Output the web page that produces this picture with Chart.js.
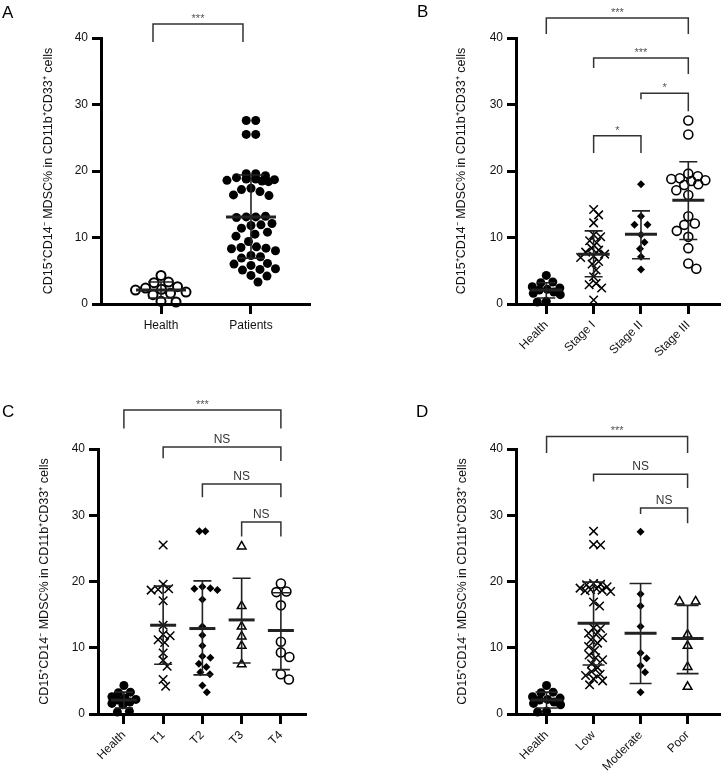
<!DOCTYPE html>
<html><head><meta charset="utf-8">
<script src="https://cdn.jsdelivr.net/npm/chart.js@4.4.1/dist/chart.umd.min.js"></script>
<style>
html,body{margin:0;padding:0;background:#fff}
body{width:728px;height:780px;position:relative;overflow:hidden;font-family:"Liberation Sans",Arial,sans-serif}
canvas{position:absolute}
.letter{position:absolute;font-size:17px;line-height:17px;color:#000}
</style></head><body>
<canvas id="cA" width="364" height="390" style="left:0;top:0"></canvas>
<canvas id="cB" width="364" height="390" style="left:364px;top:0"></canvas>
<canvas id="cC" width="364" height="390" style="left:0;top:390px"></canvas>
<canvas id="cD" width="364" height="390" style="left:364px;top:390px"></canvas>
<div class="letter" style="left:2px;top:4px">A</div>
<div class="letter" style="left:417px;top:3px">B</div>
<div class="letter" style="left:2px;top:403px">C</div>
<div class="letter" style="left:416px;top:403px">D</div>
<script>
// ---------------- DATA ----------------
const yTicks = [0, 10, 20, 30, 40];
const yTitle = 'CD15\u207ACD14\u207B MDSC% in CD11b\u207ACD33\u207A cells';

const healthValues = [4.3, 3.3, 3.2, 2.6, 2.4, 2.2, 2.1, 1.8, 1.6, 1.4, 0.4, 0.3];

// Panel A
const catsA = ['Health', 'Patients'];
const patientsValues = [27.6, 27.6, 25.5, 25.5, 19.6, 19.6, 19.3, 19.0, 18.9, 18.9, 18.8, 18.8, 18.7, 18.6, 18.5, 18.4,
  17.4, 17.2, 16.9, 16.4, 16.3, 13.2, 13.1, 13.1, 13.0, 12.1, 11.9, 11.8, 11.4, 10.8, 10.5, 10.2, 9.4,
  8.6, 8.5, 8.4, 8.3, 8.0, 7.3, 7.1, 6.9, 6.1, 6.0, 5.8, 5.3, 5.2, 5.1, 4.3, 4.2, 3.3];
const meansA = [2.1, 13.1];
const sdHighA = [3.3, 19.4];
const sdLowA = [0.9, 6.9];

// Panel B
const catsB = ['Health', 'Stage I', 'Stage II', 'Stage III'];
const stage1Values = [14.2, 13.4, 12.2, 10.4, 10.1, 9.5, 9.2, 8.4, 8.1, 7.8, 7.5, 7.2, 7.0, 6.4, 6.0, 5.1, 4.1, 3.1, 2.9, 2.4, 0.6];
const stage2Values = [18.0, 13.2, 11.9, 11.9, 10.4, 9.3, 8.3, 7.1, 5.2];
const stage3Values = [27.6, 25.5, 19.6, 19.2, 18.9, 18.8, 18.6, 18.5, 18.0, 17.9, 17.1, 16.4, 13.2, 12.1, 11.9, 11.0, 10.1, 8.4, 6.1, 5.3];
const meansB = [2.1, 7.5, 10.5, 15.6];
const sdHighB = [3.2, 11.0, 14.0, 21.4];
const sdLowB = [0.9, 4.1, 6.8, 9.7];

// Panel C
const catsC = ['Health', 'T1', 'T2', 'T3', 'T4'];
const t1Values = [25.5, 19.6, 18.9, 18.8, 18.7, 17.1, 13.4, 12.0, 11.8, 11.2, 10.8, 9.2, 8.1, 7.2, 5.2, 4.2];
const t2Values = [27.6, 27.6, 19.2, 19.0, 18.9, 18.7, 17.3, 13.2, 11.9, 10.3, 8.7, 8.5, 7.6, 7.1, 6.3, 6.0, 4.3, 3.3];
const t3Values = [25.3, 16.3, 13.2, 11.7, 10.3, 7.5];
const t4Values = [19.7, 18.5, 18.4, 16.4, 10.9, 9.3, 8.6, 6.0, 5.2];
const meansC = [2.1, 13.4, 12.9, 14.2, 12.6];
const sdHighC = [3.3, 19.3, 20.1, 20.5, 18.3];
const sdLowC = [0.9, 7.5, 5.9, 7.7, 6.7];

// Panel D
const catsD = ['Health', 'Low', 'Moderate', 'Poor'];
const lowValues = [27.6, 25.6, 25.5, 19.7, 19.6, 19.5, 19.2, 19.0, 18.9, 18.8, 18.7, 18.6, 18.5, 16.9, 16.3,
  13.0, 12.9, 12.2, 12.0, 11.5, 11.2, 10.7, 10.2, 9.6, 8.9, 8.5, 8.2, 7.6, 7.0, 6.4, 6.0, 5.8, 5.3, 5.0, 4.4];
const moderateValues = [27.5, 18.1, 16.3, 13.2, 9.2, 8.4, 7.3, 6.3, 3.3];
const poorValues = [17.0, 17.0, 12.0, 10.3, 7.1, 4.1];
const meansD = [2.1, 13.7, 12.2, 11.4];
const sdHighD = [3.3, 19.9, 19.7, 16.4];
const sdLowD = [0.9, 7.4, 4.6, 6.1];

// Significance brackets: groups compared, label, heights (in axis units)
const bracketsA = [{from: 0, to: 1, label: '***', top: 42.1, left: 39.4, right: 39.4}];
const bracketsB = [
  {from: 0, to: 3, label: '***', top: 43.0, left: 40.6, right: 40.6},
  {from: 1, to: 3, label: '***', top: 37.0, left: 35.5, right: 34.6},
  {from: 2, to: 3, label: '*', top: 31.7, left: 30.8, right: 29.0},
  {from: 1, to: 2, label: '*', top: 25.3, left: 22.7, right: 22.7}];
const bracketsC = [
  {from: 0, to: 4, label: '***', top: 45.9, left: 43.1, right: 43.1},
  {from: 1, to: 4, label: 'NS', top: 40.3, left: 38.6, right: 38.2},
  {from: 2, to: 4, label: 'NS', top: 34.7, left: 32.7, right: 32.7},
  {from: 3, to: 4, label: 'NS', top: 29.0, left: 26.8, right: 26.8}];
const bracketsD = [
  {from: 0, to: 3, label: '***', top: 41.9, left: 39.4, right: 39.4},
  {from: 1, to: 3, label: 'NS', top: 36.2, left: 35.1, right: 34.1},
  {from: 2, to: 3, label: 'NS', top: 31.1, left: 30.2, right: 28.8}];

// ---------------- STYLES ----------------
const FONT = '"Liberation Sans", Arial, sans-serif';
Chart.defaults.font.family = FONT;
Chart.defaults.color = '#111';

const filledCircle = {pointStyle: 'circle', pointRadius: 4.5, pointBackgroundColor: '#000', pointBorderColor: '#000', pointBorderWidth: 0, swarm: 9};
const hollowCircle = {pointStyle: 'circle', pointRadius: 4.5, pointBackgroundColor: 'rgba(0,0,0,0)', pointBorderColor: '#000', pointBorderWidth: 1.6, swarm: 9.5};
const crossMark = {pointStyle: 'crossRot', pointRadius: 6, pointBackgroundColor: 'rgba(0,0,0,0)', pointBorderColor: '#000', pointBorderWidth: 1.5, swarm: 7};
const diamondMark = {pointStyle: 'rectRot', pointRadius: 4, pointBackgroundColor: '#000', pointBorderColor: '#000', pointBorderWidth: 0, swarm: 8};
const triangleMark = {pointStyle: 'triangle', pointRadius: 5, pointBackgroundColor: 'rgba(0,0,0,0)', pointBorderColor: '#000', pointBorderWidth: 1.5, swarm: 9};

function makeChart(id, cfg) {
  const W = 364, H = 390, a = cfg.area;
  const datasets = cfg.groups.map((vals, i) => Object.assign({
    data: vals.map(v => ({x: i, y: v})),
    clip: false, showLine: false,
    pointHoverRadius: cfg.styles[i].pointRadius
  }, cfg.styles[i]));

  const overlay = {
    id: 'overlay' + id,
    afterDatasetsDraw(chart) {
      const ctx = chart.ctx, xs = chart.scales.x, ys = chart.scales.y;
      ctx.save();
      ctx.strokeStyle = '#222';
      cfg.means.forEach((m, i) => {
        const x = xs.getPixelForValue(i);
        const yh = ys.getPixelForValue(cfg.sdHigh[i]), yl = ys.getPixelForValue(cfg.sdLow[i]);
        const ym = ys.getPixelForValue(m);
        ctx.lineWidth = 1.6;
        ctx.beginPath();
        ctx.moveTo(x, yh); ctx.lineTo(x, yl);
        ctx.moveTo(x - cfg.capHalf, yh); ctx.lineTo(x + cfg.capHalf, yh);
        ctx.moveTo(x - cfg.capHalf, yl); ctx.lineTo(x + cfg.capHalf, yl);
        ctx.stroke();
        ctx.lineWidth = 3;
        ctx.beginPath();
        ctx.moveTo(x - cfg.meanHalf, ym); ctx.lineTo(x + cfg.meanHalf, ym);
        ctx.stroke();
      });
      ctx.restore();
    },
    afterDraw(chart) {
      const ctx = chart.ctx, xs = chart.scales.x, ys = chart.scales.y;
      ctx.save();
      ctx.strokeStyle = '#333';
      ctx.lineWidth = 1.5;
      cfg.brackets.forEach(b => {
        const x1 = xs.getPixelForValue(b.from) + (cfg.bracketShift || 0);
        const x2 = xs.getPixelForValue(b.to) + (cfg.bracketShift || 0);
        const yt = ys.getPixelForValue(b.top);
        ctx.beginPath();
        ctx.moveTo(x1, ys.getPixelForValue(b.left));
        ctx.lineTo(x1, yt); ctx.lineTo(x2, yt);
        ctx.lineTo(x2, ys.getPixelForValue(b.right));
        ctx.stroke();
        ctx.textAlign = 'center';
        ctx.textBaseline = 'alphabetic';
        if (b.label === 'NS') { ctx.font = '12px ' + FONT; ctx.fillStyle = '#333'; ctx.fillText(b.label, (x1 + x2) / 2, yt - 4); }
        else { ctx.font = '11px ' + FONT; ctx.fillStyle = '#555'; ctx.fillText(b.label, (x1 + x2) / 2, yt - 2); }
      });
      ctx.restore();
    }
  };

  const chart = new Chart(document.getElementById(id), {
    type: 'scatter',
    data: {datasets},
    options: {
      responsive: false, animation: false, devicePixelRatio: 1, events: [],
      layout: {padding: {left: 0, top: a.top, right: W - a.right, bottom: 0}},
      plugins: {legend: {display: false}, tooltip: {enabled: false}},
      scales: {
        x: {
          type: 'linear', min: cfg.xmin, max: cfg.xmax,
          afterBuildTicks: s => { s.ticks = cfg.cats.map((c, i) => ({value: i})); },
          afterFit: s => { s.height = H - a.bottom; },
          ticks: {
            callback: v => cfg.cats[Math.round(v)], font: {size: 12}, color: '#111',
            minRotation: cfg.rot, maxRotation: cfg.rot, padding: 4, autoSkip: false
          },
          grid: {display: true, drawOnChartArea: false, drawTicks: true, tickLength: 10, tickWidth: 3, tickColor: '#000'},
          border: {display: true, width: 3, color: '#000'}
        },
        y: {
          type: 'linear', min: 0, max: 40,
          afterBuildTicks: s => { s.ticks = yTicks.map(v => ({value: v})); },
          afterFit: s => { s.width = a.left; },
          ticks: {font: {size: 12}, color: '#111', padding: 4},
          grid: {display: true, drawOnChartArea: false, drawTicks: true, tickLength: 9, tickWidth: 3, tickColor: '#000'},
          border: {display: true, width: 3, color: '#000'},
          title: {display: true, text: yTitle, font: {size: 12.5}, color: '#111', padding: {top: cfg.titleX - 7.5, bottom: 0}}
        }
      }
    },
    plugins: [overlay]
  });

  // beeswarm horizontal spreading computed in pixel space
  const xs = chart.scales.x, ys = chart.scales.y;
  const ppu = xs.getPixelForValue(1) - xs.getPixelForValue(0);
  chart.data.datasets.forEach((ds, i) => {
    const vals = cfg.groups[i];
    const d = cfg.styles[i].swarm, maxOff = cfg.maxOff[i];
    const dupGap = (cfg.dupGap && cfg.dupGap[i]) || d;
    const placed = [], offs = [];
    // identical values are laid out symmetrically first
    const counts = {};
    vals.forEach(v => { counts[v] = (counts[v] || 0) + 1; });
    const seen = {};
    vals.forEach((v, k) => {
      if (counts[v] > 1) {
        const j = seen[v] = (seen[v] === undefined ? 0 : seen[v] + 1);
        const ox = (j - (counts[v] - 1) / 2) * dupGap;
        offs[k] = ox;
        placed.push({x: ox, y: ys.getPixelForValue(v)});
      }
    });
    const order = vals.map((v, k) => k).filter(k => counts[vals[k]] === 1).sort((p, q) => vals[q] - vals[p]);
    order.forEach(k => {
      const py = ys.getPixelForValue(vals[k]);
      let best = null, alt = 0, altScore = -1;
      for (let s = 0; s <= maxOff && best === null; s += 0.5) {
        for (const sg of (s === 0 ? [1] : [1, -1])) {
          const ox = s * sg;
          let minD = Infinity;
          placed.forEach(p => { const dd = Math.hypot(p.x - ox, p.y - py); if (dd < minD) minD = dd; });
          if (minD >= d) { best = ox; break; }
          if (minD > altScore) { altScore = minD; alt = ox; }
        }
      }
      if (best === null) best = alt;
      placed.push({x: best, y: py});
      offs[k] = best;
    });
    ds.data = vals.map((v, k) => ({x: i + offs[k] / ppu, y: v}));
  });
  chart.update('none');
  return chart;
}

makeChart('cA', {
  area: {left: 101, right: 310, top: 38, bottom: 304}, titleX: 49, xmin: -0.667, xmax: 1.656, rot: 0,
  cats: catsA, groups: [healthValues, patientsValues],
  styles: [Object.assign({}, hollowCircle, {pointBorderWidth: 2, swarm: 10}), Object.assign({}, filledCircle, {swarm: 9.5})],
  maxOff: [28, 29], means: meansA, sdHigh: sdHighA, sdLow: sdLowA, meanHalf: 25, capHalf: 13,
  brackets: bracketsA, bracketShift: -8
});
makeChart('cB', {
  area: {left: 152, right: 361, top: 38, bottom: 304}, titleX: 98, xmin: -0.64, xmax: 3.68, rot: 45,
  cats: catsB, groups: [healthValues, stage1Values, stage2Values, stage3Values],
  styles: [filledCircle, crossMark, diamondMark, hollowCircle],
  dupGap: [0, 0, 13, 0],
  maxOff: [14, 15, 13, 17], means: meansB, sdHigh: sdHighB, sdLow: sdLowB, meanHalf: 16, capHalf: 9,
  brackets: bracketsB
});
makeChart('cC', {
  area: {left: 98, right: 306, top: 59, bottom: 324}, titleX: 45, xmin: -0.66, xmax: 4.64, rot: 45,
  cats: catsC, groups: [healthValues, t1Values, t2Values, t3Values, t4Values],
  styles: [filledCircle, crossMark, diamondMark, triangleMark, hollowCircle],
  dupGap: [0, 0, 6, 0, 0],
  maxOff: [12, 15, 15, 2, 14], means: meansC, sdHigh: sdHighC, sdLow: sdLowC, meanHalf: 13, capHalf: 9,
  brackets: bracketsC
});
makeChart('cD', {
  area: {left: 152, right: 361, top: 59, bottom: 324}, titleX: 98.5, xmin: -0.65, xmax: 3.7, rot: 45,
  cats: catsD, groups: [healthValues, lowValues, moderateValues, poorValues],
  styles: [filledCircle, crossMark, diamondMark, triangleMark],
  dupGap: [0, 0, 0, 16],
  maxOff: [14, 17, 13, 13], means: meansD, sdHigh: sdHighD, sdLow: sdLowD, meanHalf: 16, capHalf: 11,
  brackets: bracketsD
});
</script>
</body></html>
